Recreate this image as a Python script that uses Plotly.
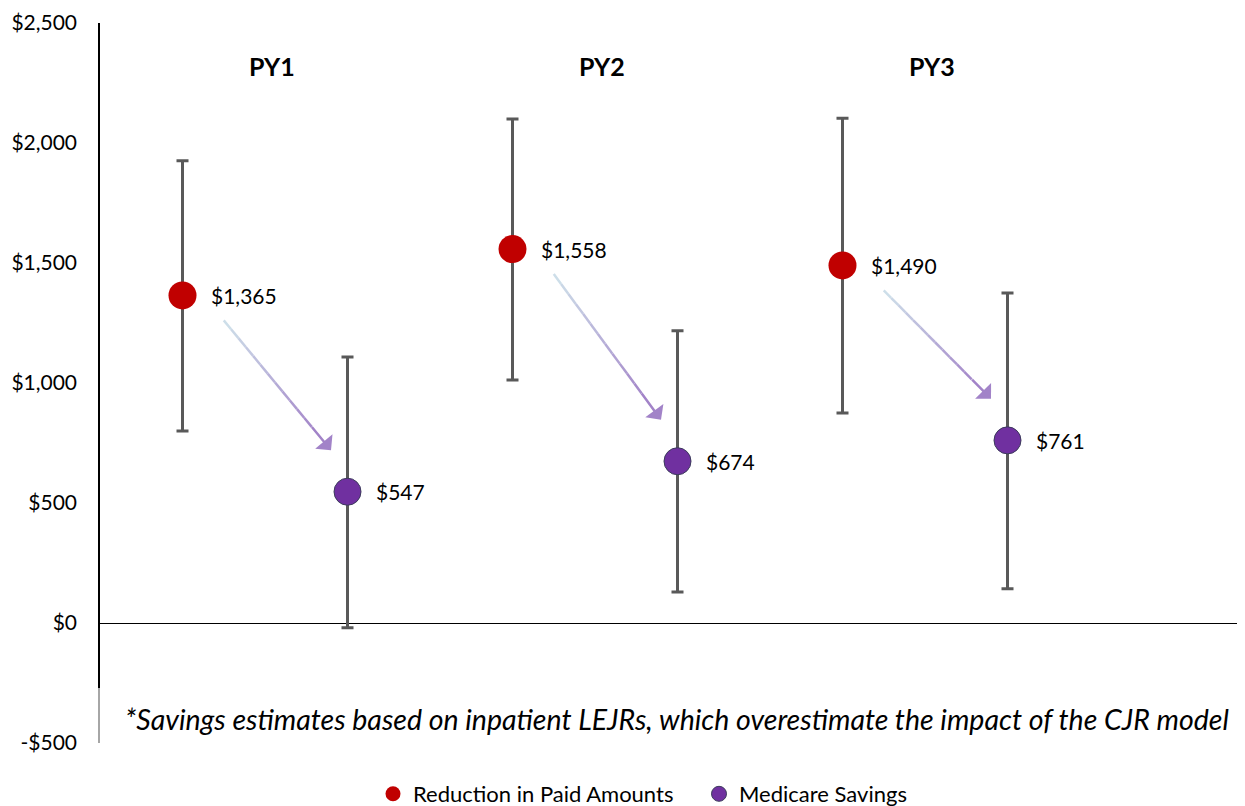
import plotly.graph_objects as go

# ---- data ----
periods = ["PY1", "PY2", "PY3"]
reduction_paid = [1365, 1558, 1490]
reduction_low = [800, 1012, 875]
reduction_high = [1926, 2100, 2103]
medicare_savings = [547, 674, 761]
savings_low = [-20, 129, 143]
savings_high = [1108, 1218, 1375]
y_ticks = [-500, 0, 500, 1000, 1500, 2000, 2500]
y_tick_labels = ["-$500", "$0", "$500", "$1,000", "$1,500", "$2,000", "$2,500"]
note = "*Savings estimates based on inpatient LEJRs, which overestimate the impact of the CJR model"

RED = "#C00000"
PURPLE = "#7030A0"
ERR = "#595959"
FONT = "Lato"

x_red = [1 + 2 * i for i in range(len(periods))]
x_pur = [2 + 2 * i for i in range(len(periods))]

def fmt(v):
    return "${:,.0f}".format(v)

fig = go.Figure()

fig.add_trace(go.Scatter(
    x=x_red, y=reduction_paid, mode="markers", showlegend=False,
    marker=dict(size=28, color=RED, line=dict(width=0)),
    error_y=dict(type="data", symmetric=False,
                 array=[h - v for h, v in zip(reduction_high, reduction_paid)],
                 arrayminus=[v - l for l, v in zip(reduction_low, reduction_paid)],
                 color=ERR, thickness=3, width=6),
    hoverinfo="skip"))
fig.add_trace(go.Scatter(
    x=x_pur, y=medicare_savings, mode="markers", showlegend=False,
    marker=dict(size=27, color=PURPLE, line=dict(width=1, color="#3C3C5C")),
    error_y=dict(type="data", symmetric=False,
                 array=[h - v for h, v in zip(savings_high, medicare_savings)],
                 arrayminus=[v - l for l, v in zip(savings_low, medicare_savings)],
                 color=ERR, thickness=3, width=6),
    hoverinfo="skip"))

# legend-only traces
fig.add_trace(go.Scatter(x=[None], y=[None], mode="markers", name="Reduction in Paid Amounts",
                         marker=dict(size=15, color=RED)))
fig.add_trace(go.Scatter(x=[None], y=[None], mode="markers", name="Medicare Savings",
                         marker=dict(size=15, color=PURPLE, line=dict(width=1, color="#3C3C5C"))))

annotations = []
shapes = []

# value labels
for xs, ys in ((x_red, reduction_paid), (x_pur, medicare_savings)):
    for x, y in zip(xs, ys):
        annotations.append(dict(x=x, y=y, xref="x", yref="y", text=fmt(y), showarrow=False,
                                xanchor="left", yanchor="middle", xshift=26,
                                font=dict(family=FONT, size=21, color="#000000")))

# period titles
for i, p in enumerate(periods):
    annotations.append(dict(x=(x_red[i] + x_pur[i]) / 2, y=2321, xref="x", yref="y",
                            text="<b>" + p + "</b>", showarrow=False, xshift=7,
                            font=dict(family=FONT, size=25, color="#000000")))

# gradient arrows from red point to purple point
def lerp_color(c1, c2, t):
    a = [int(c1[i:i + 2], 16) for i in (1, 3, 5)]
    b = [int(c2[i:i + 2], 16) for i in (1, 3, 5)]
    return "rgb({},{},{})".format(*[round(a[k] + (b[k] - a[k]) * t) for k in range(3)])

C0, C1 = "#CFE2EA", "#A283C8"
for i in range(len(periods)):
    sx, sy = x_red[i] + 0.25, reduction_paid[i] - 104
    ex, ey = x_pur[i] - 0.10, medicare_savings[i] + 173
    n = 12
    tcut = 0.82
    for k in range(n):
        t0 = tcut * k / n
        t1 = tcut * (k + 1) / n
        shapes.append(dict(type="line", xref="x", yref="y",
                           x0=sx + (ex - sx) * t0, y0=sy + (ey - sy) * t0,
                           x1=sx + (ex - sx) * t1, y1=sy + (ey - sy) * t1,
                           line=dict(color=lerp_color(C0, C1, (t0 + t1) / 2 / tcut * 0.95), width=2.5)))
    mx, my = sx + (ex - sx) * (tcut - 0.01), sy + (ey - sy) * (tcut - 0.01)
    annotations.append(dict(x=ex, y=ey, ax=mx, ay=my, xref="x", yref="y", axref="x", ayref="y",
                            text="", showarrow=True, arrowhead=1, arrowsize=1.5, arrowwidth=2.5,
                            arrowcolor=C1))

# note box overlay
shapes.append(dict(type="rect", xref="paper", yref="paper", x0=-0.002, x1=1,
                   y0=0, y1=(743 - 688) / 720, fillcolor="rgba(255,255,255,0.65)",
                   line=dict(width=0), layer="above"))
annotations.append(dict(x=0.504, y=(743 - 719) / 720, xref="paper", yref="paper", text="<i>" + note + "</i>",
                        showarrow=False, xanchor="center", yanchor="middle",
                        font=dict(family=FONT, size=28.5, color="#000000")))

# the page places the figure 8px in from the top-left corner; size the figure to fit
W, H = 1237, 798
fig.update_layout(
    width=W, height=H,
    margin=dict(l=92, r=0, t=15, b=63, autoexpand=False),
    paper_bgcolor="white", plot_bgcolor="white",
    showlegend=True,
    legend=dict(orientation="h", x=691 / W, xanchor="center", xref="container",
                y=12 / H, yanchor="middle", yref="container",
                font=dict(family=FONT, size=22, color="#000000"), itemwidth=30,
                entrywidth=281, tracegroupgap=0),
    xaxis=dict(range=[0.5, 0.5 + 1145 / 165], showgrid=False, zeroline=False, showline=False,
               showticklabels=False, ticks="", automargin=False),
    yaxis=dict(range=[-500, 2500], tickvals=y_ticks, ticktext=y_tick_labels,
               showgrid=False, zeroline=True, zerolinecolor="#000000", zerolinewidth=1,
               showline=True, linecolor="#000000", linewidth=1.5, ticks="",
               ticklabelstandoff=17, automargin=False,
               tickfont=dict(family=FONT, size=21, color="#000000")),
    annotations=annotations,
    shapes=shapes,
    font=dict(family=FONT),
)

fig.write_html("out.html")
